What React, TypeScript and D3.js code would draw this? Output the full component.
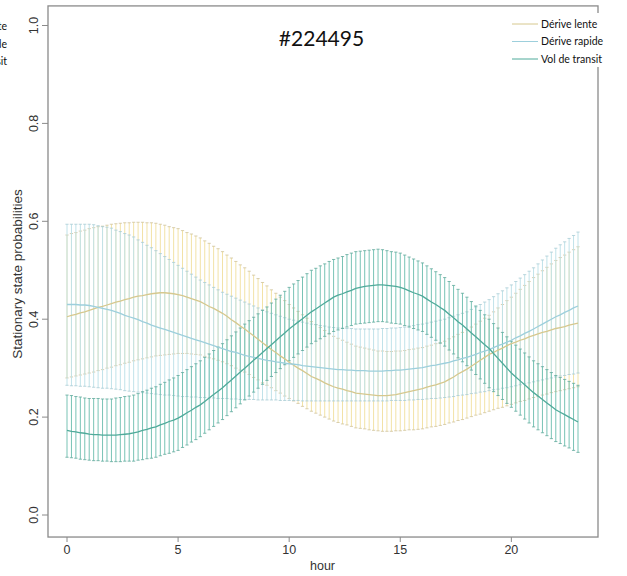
import React, { useEffect, useRef } from 'react';
import * as d3 from 'd3';

// stationary state probabilities, one value every 0.2 h (hour 0 .. 23)
const lenteMean = [
  .405,.408,.410,.413,.415, .418,.421,.424,.426,.429, .432,.435,.437,.440,.442, .445,.447,.448,.450,.452,
  .453,.454,.454,.453,.452, .450,.448,.445,.442,.439, .436,.431,.426,.422,.417, .412,.406,.399,.393,.386,
  .380,.373,.366,.359,.352, .345,.338,.332,.325,.319, .312,.306,.300,.295,.289, .283,.279,.275,.270,.266,
  .262,.259,.257,.254,.252, .249,.248,.247,.246,.245, .244,.244,.244,.245,.246, .248,.250,.252,.254,.256,
  .258,.261,.264,.266,.269, .272,.277,.282,.288,.293, .298,.304,.310,.316,.322, .328,.332,.337,.341,.346,
  .350,.353,.357,.360,.364, .367,.370,.373,.375,.378, .381,.383,.385,.388,.390, .392
];
const lenteHi = [
  .572,.575,.577,.580,.582, .585,.587,.589,.590,.592, .594,.595,.596,.597,.597, .598,.598,.598,.597,.597,
  .596,.594,.592,.589,.587, .585,.581,.577,.574,.570, .566,.560,.555,.549,.544, .538,.531,.525,.518,.511,
  .505,.498,.490,.483,.475, .468,.460,.453,.445,.438, .430,.423,.416,.409,.402, .395,.389,.383,.377,.371,
  .365,.361,.357,.353,.349, .345,.343,.341,.339,.337, .335,.335,.334,.334,.335, .335,.336,.338,.339,.341,
  .342,.345,.347,.350,.352, .355,.360,.364,.369,.373, .378,.384,.390,.396,.402, .408,.415,.423,.430,.438,
  .445,.453,.461,.469,.477, .485,.492,.499,.506,.513, .520,.526,.531,.537,.542, .548
];
const lenteLo = [
  .280,.282,.284,.286,.288, .290,.292,.295,.297,.300, .302,.305,.307,.310,.312, .315,.317,.319,.321,.323,
  .325,.326,.327,.328,.329, .330,.330,.330,.329,.328, .327,.324,.321,.319,.316, .313,.309,.305,.300,.296,
  .292,.287,.281,.276,.270, .265,.260,.254,.249,.243, .238,.233,.228,.222,.217, .212,.208,.204,.200,.196,
  .192,.189,.186,.184,.181, .178,.177,.176,.174,.173, .172,.171,.171,.171,.172, .172,.173,.174,.174,.175,
  .176,.178,.180,.181,.183, .185,.188,.190,.193,.195, .198,.201,.204,.206,.209, .212,.215,.218,.220,.223,
  .226,.229,.232,.234,.237, .240,.242,.245,.247,.250, .252,.254,.256,.258,.260, .262
];

const rapideMean = [
  .430,.430,.430,.429,.429, .428,.426,.424,.422,.420, .418,.415,.412,.408,.405, .402,.399,.395,.392,.388,
  .385,.382,.379,.376,.373, .370,.367,.364,.361,.358, .355,.352,.349,.346,.343, .340,.337,.334,.332,.329,
  .326,.324,.322,.320,.318, .316,.315,.313,.312,.310, .309,.308,.307,.305,.304, .303,.302,.301,.300,.299,
  .298,.297,.297,.296,.296, .295,.295,.295,.294,.294, .294,.294,.295,.295,.296, .296,.297,.298,.299,.300,
  .301,.303,.305,.306,.308, .310,.312,.315,.317,.320, .322,.325,.328,.332,.335, .338,.342,.346,.349,.353,
  .357,.362,.366,.371,.375, .380,.385,.390,.395,.400, .405,.409,.414,.418,.423, .427
];
const rapideHi = [
  .594,.594,.594,.594,.594, .594,.593,.591,.589,.588, .586,.582,.579,.575,.572, .568,.562,.557,.551,.546,
  .540,.534,.528,.522,.516, .510,.504,.498,.492,.486, .480,.475,.470,.465,.460, .455,.451,.447,.443,.439,
  .435,.431,.427,.423,.419, .415,.412,.409,.406,.403, .400,.398,.396,.394,.392, .390,.389,.387,.386,.384,
  .383,.382,.382,.381,.381, .380,.380,.380,.380,.380, .380,.381,.381,.382,.382, .383,.384,.386,.387,.389,
  .390,.392,.394,.396,.398, .400,.403,.406,.409,.412, .415,.420,.425,.430,.435, .440,.446,.452,.458,.464,
  .470,.477,.484,.491,.498, .505,.513,.521,.529,.537, .545,.552,.558,.565,.571, .578
];
const rapideLo = [
  .265,.264,.264,.263,.263, .262,.261,.260,.259,.259, .258,.257,.256,.254,.253, .252,.251,.250,.249,.248,
  .247,.246,.245,.245,.244, .243,.242,.242,.241,.241, .240,.240,.239,.239,.238, .238,.238,.237,.237,.236,
  .236,.236,.236,.235,.235, .235,.235,.235,.234,.234, .234,.234,.234,.233,.233, .233,.233,.233,.233,.233,
  .233,.233,.233,.233,.233, .233,.233,.233,.233,.233, .233,.233,.233,.234,.234, .234,.234,.235,.235,.236,
  .236,.237,.238,.238,.239, .240,.241,.242,.244,.245, .246,.248,.249,.251,.252, .254,.256,.257,.259,.260,
  .262,.264,.266,.268,.270, .272,.274,.276,.278,.280, .282,.284,.285,.287,.288, .290
];

const transitMean = [
  .173,.171,.170,.168,.167, .165,.164,.164,.163,.163, .163,.163,.164,.165,.166, .168,.170,.173,.175,.178,
  .180,.184,.187,.191,.194, .198,.203,.209,.214,.220, .225,.232,.239,.246,.253, .260,.268,.276,.284,.292,
  .300,.308,.316,.324,.332, .340,.348,.356,.364,.372, .380,.387,.394,.401,.408, .415,.421,.427,.433,.439,
  .445,.449,.452,.456,.459, .463,.465,.467,.468,.469, .470,.470,.469,.468,.467, .465,.462,.458,.454,.451,
  .447,.441,.435,.430,.424, .418,.410,.403,.395,.388, .380,.372,.364,.356,.348, .340,.330,.320,.310,.300,
  .290,.282,.274,.266,.258, .250,.243,.236,.229,.222, .215,.210,.205,.200,.195, .190
];
const transitHi = [
  .245,.244,.242,.241,.239, .238,.238,.238,.237,.237, .237,.239,.240,.242,.243, .245,.248,.252,.255,.259,
  .262,.267,.271,.276,.280, .285,.291,.297,.303,.309, .315,.322,.329,.336,.343, .350,.358,.366,.374,.382,
  .390,.397,.404,.411,.418, .425,.433,.441,.449,.457, .465,.472,.479,.486,.493, .500,.504,.509,.513,.518,
  .522,.525,.528,.532,.535, .538,.539,.540,.541,.542, .543,.542,.540,.538,.537, .535,.531,.527,.523,.519,
  .515,.509,.503,.497,.491, .485,.477,.469,.461,.453, .445,.436,.427,.418,.409, .400,.391,.382,.373,.364,
  .355,.347,.339,.331,.323, .315,.309,.303,.297,.291, .285,.281,.277,.273,.269, .265
];
const transitLo = [
  .118,.117,.116,.114,.113, .112,.111,.111,.110,.110, .109,.109,.109,.110,.110, .110,.112,.113,.115,.116,
  .118,.121,.124,.126,.129, .132,.138,.143,.149,.154, .160,.167,.174,.181,.188, .195,.203,.211,.219,.227,
  .235,.243,.251,.259,.267, .275,.283,.291,.299,.307, .315,.322,.329,.336,.343, .350,.355,.360,.365,.370,
  .375,.378,.381,.384,.387, .390,.391,.392,.393,.394, .395,.395,.394,.392,.391, .390,.387,.384,.381,.378,
  .375,.369,.363,.357,.351, .345,.337,.329,.321,.313, .305,.296,.287,.278,.269, .260,.252,.244,.236,.228,
  .220,.212,.204,.196,.188, .180,.174,.168,.162,.156, .150,.146,.141,.137,.132, .128
];

const stateNames = ['Dérive lente', 'Dérive rapide', 'Vol de transit'];
const barColors = ['#f2e2a6', '#c0e2e9', '#78c3b5'];
const lineColors = ['#d6c88e', '#9dcfdc', '#4faa9a'];
const capColors = ['#cfc39a', '#a8ccd4', '#5fa89a'];
const xTicks = [0, 5, 10, 15, 20];
const yTicks = [0, 0.2, 0.4, 0.6, 0.8, 1.0];

const W = 627;
const H = 576;

const App = () => {
  const ref = useRef<SVGSVGElement>(null);

  useEffect(() => {
    const svg = d3.select(ref.current);
    svg.selectAll('*').remove();

    const states = [
      { mean: lenteMean, lo: lenteLo, hi: lenteHi },
      { mean: rapideMean, lo: rapideLo, hi: rapideHi },
      { mean: transitMean, lo: transitLo, hi: transitHi },
    ];

    const x = d3.scaleLinear().domain([0, 23]).range([67, 578]);
    const y = d3.scaleLinear().domain([0, 1]).range([515, 25.5]);
    const hourOf = (i: number) => i / 5;

    const box = { left: 48, right: 598, top: y(1.04), bottom: y(-0.045) };

    // error bars, drawn state by state
    states.forEach((s, k) => {
      const g = svg.append('g');
      g.selectAll('line.bar')
        .data(s.mean)
        .enter()
        .append('line')
        .attr('x1', (d, i) => x(hourOf(i)))
        .attr('x2', (d, i) => x(hourOf(i)))
        .attr('y1', (d, i) => y(s.lo[i]))
        .attr('y2', (d, i) => y(s.hi[i]))
        .attr('stroke', barColors[k])
        .attr('stroke-width', 1);
      [s.lo, s.hi].forEach(arr => {
        g.selectAll(null)
          .data(arr)
          .enter()
          .append('line')
          .attr('x1', (d, i) => x(hourOf(i)) - 1.6)
          .attr('x2', (d, i) => x(hourOf(i)) + 1.6)
          .attr('y1', d => y(d))
          .attr('y2', d => y(d))
          .attr('stroke', capColors[k])
          .attr('stroke-width', 0.8);
      });
    });

    // mean curves on top
    states.forEach((s, k) => {
      const line = d3.line<number>()
        .x((d, i) => x(hourOf(i)))
        .y(d => y(d));
      svg.append('path')
        .attr('d', line(s.mean))
        .attr('fill', 'none')
        .attr('stroke', lineColors[k])
        .attr('stroke-width', 1.3);
    });

    // frame
    svg.append('rect')
      .attr('x', box.left)
      .attr('y', box.top)
      .attr('width', box.right - box.left)
      .attr('height', box.bottom - box.top)
      .attr('fill', 'none')
      .attr('stroke', '#8a8a8a')
      .attr('stroke-width', 1.3);

    const axisFont = 'Liberation Sans, Arial, sans-serif';

    // y axis
    const yg = svg.append('g');
    yTicks.forEach(t => {
      yg.append('line')
        .attr('x1', box.left - 6)
        .attr('x2', box.left)
        .attr('y1', y(t))
        .attr('y2', y(t))
        .attr('stroke', '#8a8a8a');
      yg.append('text')
        .attr('transform', `translate(38,${y(t)}) rotate(-90)`)
        .attr('text-anchor', 'middle')
        .attr('font-family', axisFont)
        .attr('font-size', 12.5)
        .attr('fill', '#333')
        .text(t.toFixed(1));
    });
    yg.append('text')
      .attr('transform', `translate(22,274) rotate(-90)`)
      .attr('text-anchor', 'middle')
      .attr('font-family', axisFont)
      .attr('font-size', 13.5)
      .attr('fill', '#333')
      .text('Stationary state probabilities');

    // x axis
    const xg = svg.append('g');
    xTicks.forEach(t => {
      xg.append('line')
        .attr('x1', x(t))
        .attr('x2', x(t))
        .attr('y1', box.bottom)
        .attr('y2', box.bottom + 5)
        .attr('stroke', '#8a8a8a');
      xg.append('text')
        .attr('x', x(t))
        .attr('y', box.bottom + 17)
        .attr('text-anchor', 'middle')
        .attr('font-family', axisFont)
        .attr('font-size', 12.5)
        .attr('fill', '#333')
        .text(t);
    });
    xg.append('text')
      .attr('x', x(11.5))
      .attr('y', box.bottom + 33)
      .attr('text-anchor', 'middle')
      .attr('font-family', axisFont)
      .attr('font-size', 12.5)
      .attr('fill', '#333')
      .text('hour');

    // pasted legend and title
    const lg = svg.append('g');
    lg.append('rect')
      .attr('x', 504)
      .attr('y', 13)
      .attr('width', W - 504)
      .attr('height', 54)
      .attr('fill', 'white');
    stateNames.forEach((n, k) => {
      const ly = 24 + k * 17.5;
      lg.append('line')
        .attr('x1', 512)
        .attr('x2', 538)
        .attr('y1', ly)
        .attr('y2', ly)
        .attr('stroke', lineColors[k])
        .attr('stroke-width', 1);
      lg.append('text')
        .attr('x', 541)
        .attr('y', ly + 3.6)
        .attr('font-family', 'Lato, sans-serif')
        .attr('font-size', 10.5)
        .attr('fill', '#111')
        .text(n);
      // copy of the legend cut by the left edge, as in the source image
      lg.append('text')
        .attr('x', 7)
        .attr('y', ly + 6)
        .attr('text-anchor', 'end')
        .attr('font-family', 'Lato, sans-serif')
        .attr('font-size', 10.5)
        .attr('fill', '#111')
        .text(n);
    });

    svg.append('text')
      .attr('x', 321.5)
      .attr('y', 45.5)
      .attr('text-anchor', 'middle')
      .attr('font-family', 'Lato, sans-serif')
      .attr('font-size', 21)
      .attr('fill', '#111')
      .text('#224495');
  }, []);

  return (
    <svg
      ref={ref}
      width={W}
      height={H}
      style={{ position: 'absolute', left: 0, top: 0, background: 'white' }}
    />
  );
};

export default App;
